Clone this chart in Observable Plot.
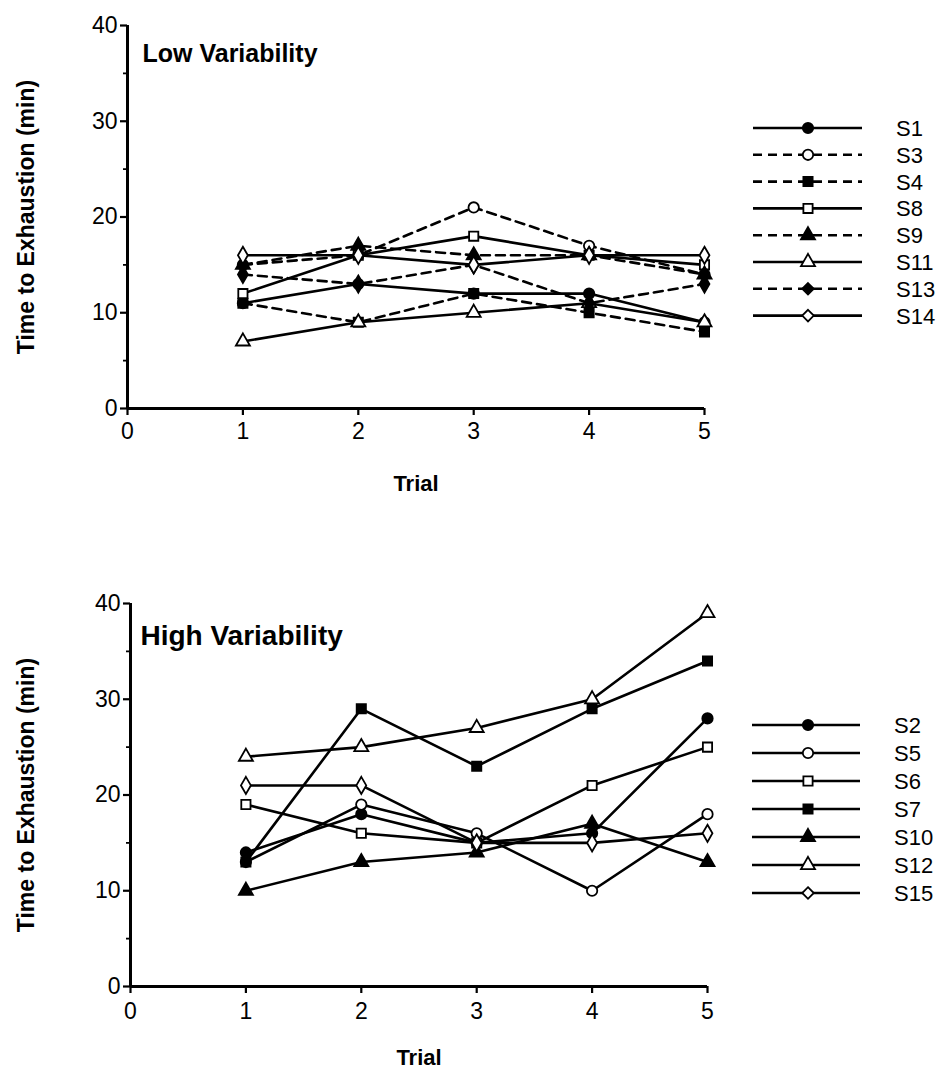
<!DOCTYPE html>
<html><head><meta charset="utf-8">
<script src="https://cdn.jsdelivr.net/npm/d3@7"></script>
<script src="https://cdn.jsdelivr.net/npm/@observablehq/plot@0.6"></script>
<style>
body{margin:0;background:#fff;font-family:"Liberation Sans",Arial,sans-serif;}
#wrap{position:relative;width:945px;height:1076px;overflow:hidden;background:#fff}
.panel{position:absolute;left:0}
#legend{position:absolute;left:0;top:0;pointer-events:none}
</style></head><body><div id="wrap"></div>
<script>
// ---------- data ----------
const trials = [1, 2, 3, 4, 5];
const xTicks = [0, 1, 2, 3, 4, 5];
const yTicks = [0, 10, 20, 30, 40];
const yMinorTicks = [5, 15, 25, 35];

const lowTitle = "Low Variability";
const lowSeries = ["S1", "S3", "S4", "S8", "S9", "S11", "S13", "S14"];
const lowValues = [
  [11, 13, 12, 12, 9],   // S1
  [15, 16, 21, 17, 14],  // S3
  [11, 9, 12, 10, 8],    // S4
  [12, 16, 18, 16, 15],  // S8
  [15, 17, 16, 16, 14],  // S9
  [7, 9, 10, 11, 9],     // S11
  [14, 13, 15, 11, 13],  // S13
  [16, 16, 15, 16, 16]   // S14
];

const highTitle = "High Variability";
const highSeries = ["S2", "S5", "S6", "S7", "S10", "S12", "S15"];
const highValues = [
  [14, 18, 15, 16, 28],  // S2
  [13, 19, 16, 10, 18],  // S5
  [19, 16, 15, 21, 25],  // S6
  [13, 29, 23, 29, 34],  // S7
  [10, 13, 14, 17, 13],  // S10
  [24, 25, 27, 30, 39],  // S12
  [21, 21, 15, 15, 16]   // S15
];

const yLabel = "Time to Exhaustion (min)";
const xLabel = "Trial";

// ---------- styles (marker shape, filled, dashed) ----------
const seriesStyle = {
  S1: ["circle", true, false], S3: ["circle", false, true], S4: ["square", true, true],
  S8: ["square", false, false], S9: ["triangle", true, true], S11: ["triangle", false, false],
  S13: ["diamond", true, true], S14: ["diamond", false, false],
  S2: ["circle", true, false], S5: ["circle", false, false], S6: ["square", false, false],
  S7: ["square", true, false], S10: ["triangle", true, false], S12: ["triangle", false, false],
  S15: ["diamond", false, false]
};
const symbolMap = {circle: d3.symbolCircle, square: d3.symbolSquare, triangle: d3.symbolTriangle, diamond: d3.symbolDiamond2};
const FONT = "Liberation Sans, Arial, Helvetica, sans-serif";
const DASH = "9,6";
const R = 5.2;
const LW = 2.6;

function panel(series, values, title, g) {
  const data = series.flatMap((s, i) => trials.map((t, j) => ({s, trial: t, v: values[i][j]})));
  const solid = data.filter(d => !seriesStyle[d.s][2]);
  const dashed = data.filter(d => seriesStyle[d.s][2]);
  return Plot.plot({
    width: 945, height: g.height,
    marginLeft: g.left, marginRight: 945 - g.right,
    marginTop: g.top, marginBottom: g.height - g.bottom,
    x: {domain: [0, 5], label: null},
    y: {domain: [0, 40], label: null},
    symbol: {domain: Object.keys(symbolMap), range: Object.values(symbolMap)},
    color: {type: "identity"},
    style: {fontFamily: FONT, fontSize: "22px", color: "black", background: "white", overflow: "visible"},
    marks: [
      Plot.axisY(yTicks, {tickSize: 7, tickPadding: 3, strokeWidth: 2.2, fontSize: 23, tickFormat: d3.format("d"), label: null}),
      Plot.axisY(yMinorTicks, {tickSize: 4, strokeWidth: 1.8, tickFormat: () => "", label: null}),
      Plot.axisX(xTicks, {tickSize: 7, tickPadding: g.xPad, strokeWidth: 2.2, fontSize: 23, tickFormat: d3.format("d"), label: null}),
      Plot.ruleX([0], {y1: 0, y2: 40, strokeWidth: 3}),
      Plot.ruleY([0], {x1: 0, x2: 5, strokeWidth: 3}),
      Plot.line(solid, {x: "trial", y: "v", z: "s", stroke: "black", strokeWidth: LW}),
      Plot.line(dashed, {x: "trial", y: "v", z: "s", stroke: "black", strokeWidth: LW, strokeDasharray: DASH}),
      Plot.dot(data, {x: "trial", y: "v", symbol: d => seriesStyle[d.s][0],
        fill: d => seriesStyle[d.s][1] ? "black" : "white", stroke: "black", strokeWidth: 1.8, r: R}),
      Plot.text([title], {frameAnchor: "top-left", dx: g.titleDx, dy: g.titleDy, textAnchor: "start",
        fontWeight: "bold", fontSize: g.titleSize, fill: "black"}),
      Plot.text([yLabel], {frameAnchor: "left", rotate: -90, dx: g.yLabelDx, textAnchor: "middle",
        fontWeight: "bold", fontSize: 23, fill: "black"}),
      Plot.text([xLabel], {frameAnchor: "bottom", dy: g.xLabelDy, textAnchor: "middle",
        fontWeight: "bold", fontSize: 22, fill: "black"})
    ]
  });
}

const wrap = document.getElementById("wrap");
const p1 = panel(lowSeries, lowValues, lowTitle,
  {height: 510, left: 127, right: 704, top: 25, bottom: 408, titleDx: 15, titleDy: 19, titleSize: 25,
   yLabelDx: -101, xLabelDy: 82, xPad: 7});
p1.classList.add("panel"); p1.style.top = "0px";
wrap.appendChild(p1);

const p2 = panel(highSeries, highValues, highTitle,
  {height: 556, left: 130, right: 707, top: 83, bottom: 466, titleDx: 10, titleDy: 22, titleSize: 28,
   yLabelDx: -104, xLabelDy: 78, xPad: 9});
p2.classList.add("panel"); p2.style.top = "520px";
wrap.appendChild(p2);

// ---------- legends ----------
const leg = d3.select(wrap).append("svg").attr("id", "legend").attr("width", 945).attr("height", 1076);
function legend(series, y0, step, x1, x2, xm, xt) {
  series.forEach((s, i) => {
    const [shape, filled, dashed] = seriesStyle[s];
    const y = y0 + i * step;
    leg.append("line").attr("x1", x1).attr("x2", x2).attr("y1", y).attr("y2", y)
      .attr("stroke", "black").attr("stroke-width", LW).attr("stroke-dasharray", dashed ? DASH : null);
    leg.append("path").attr("d", d3.symbol(symbolMap[shape], Math.PI * R * R)())
      .attr("transform", `translate(${xm},${y})`)
      .attr("fill", filled ? "black" : "white").attr("stroke", "black").attr("stroke-width", 1.8);
    leg.append("text").attr("x", xt).attr("y", y).attr("dy", "0.36em")
      .attr("font-family", FONT).attr("font-size", 22).text(s);
  });
}
legend(lowSeries, 128, 26.8, 753, 862, 808, 896);
legend(highSeries, 725, 28, 752, 860, 808, 894);
</script></body></html>
